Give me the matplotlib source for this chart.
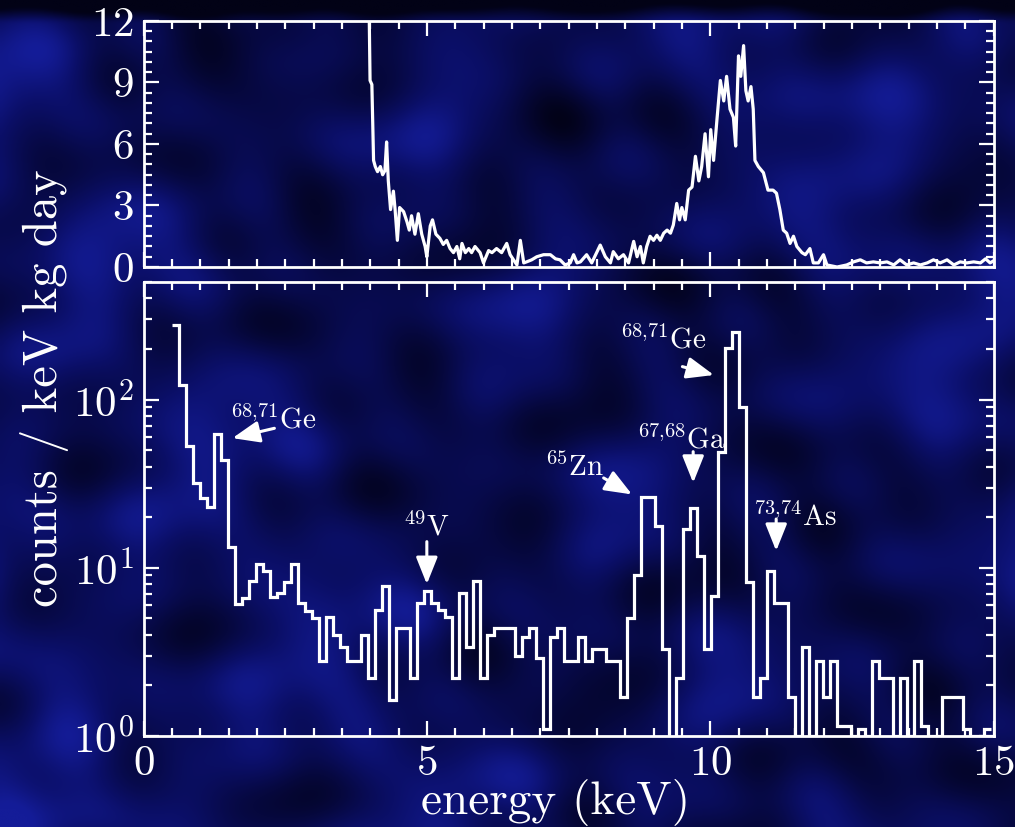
import numpy as np
import matplotlib
matplotlib.use("Agg")
import matplotlib.pyplot as plt
from matplotlib.colors import LinearSegmentedColormap
from matplotlib.ticker import MultipleLocator, LogLocator, NullFormatter

plt.rcParams.update({
    "font.family": "serif",
    "font.serif": ["cmr10", "DejaVu Serif"],
    "mathtext.fontset": "cm",
    "axes.formatter.use_mathtext": True,
    "text.color": "white",
})

# --- top panel: fine-binned spectrum (counts / keV kg day, linear) ---
top_energy = [3.96, 3.975, 3.998, 4.03, 4.06, 4.09, 4.13, 4.18, 4.22, 4.26, 4.29, 4.32,
              4.36, 4.41, 4.44, 4.48, 4.52, 4.59, 4.65, 4.69, 4.73, 4.79, 4.85, 4.91,
              4.97, 5.0, 5.06, 5.10, 5.16, 5.23, 5.29, 5.35, 5.41, 5.47, 5.53, 5.58,
              5.62, 5.68, 5.74, 5.79, 5.85, 5.94, 6.0, 6.09, 6.15, 6.23, 6.32, 6.41,
              6.47, 6.53, 6.59, 6.65, 6.71, 6.76, 6.85, 6.94, 7.06, 7.18, 7.27, 7.35,
              7.44, 7.53, 7.59, 7.65, 7.71, 7.82, 7.91, 8.06, 8.15, 8.24, 8.29, 8.38,
              8.47, 8.56, 8.65, 8.71, 8.77, 8.82, 8.88, 8.94, 9.0, 9.06, 9.12, 9.18,
              9.24, 9.30, 9.35, 9.41, 9.46, 9.50, 9.56, 9.62, 9.68, 9.74, 9.80, 9.85,
              9.91, 9.97, 10.01, 10.06, 10.12, 10.18, 10.24, 10.29, 10.35, 10.41, 10.45,
              10.50, 10.54, 10.59, 10.63, 10.67, 10.72, 10.76, 10.79, 10.85, 10.94,
              11.02, 11.11, 11.17, 11.23, 11.29, 11.35, 11.41, 11.47, 11.53, 11.62,
              11.68, 11.76, 11.82, 11.91, 12.0, 12.06, 12.24, 12.41, 12.53, 12.65,
              12.76, 12.88, 13.0, 13.12, 13.24, 13.35, 13.47, 13.59, 13.71, 13.83,
              13.94, 14.06, 14.18, 14.30, 14.41, 14.53, 14.65, 14.77, 14.86, 14.94, 15.0]
top_rate = [30, 14, 9.1, 8.9, 5.2, 4.9, 4.65, 4.9, 4.5, 4.7, 6.1, 4.2,
            2.8, 3.7, 2.8, 1.3, 2.9, 2.7, 2.2, 1.8, 2.5, 1.6, 2.6, 1.6,
            1.0, 0.5, 2.0, 2.3, 1.6, 1.4, 1.1, 1.3, 0.9, 0.7, 1.0, 0.4,
            1.15, 0.7, 0.9, 0.7, 1.0, 0.7, 0.2, 0.8, 0.7, 0.9, 0.7, 1.15,
            0.6, 0.35, 0.1, 1.3, 0.2, 0.25, 0.35, 0.5, 0.6, 0.6, 0.4, 0.35,
            0.1, 0.2, 0.6, 0.2, 0.25, 0.6, 0.2, 1.07, 0.5, 0.2, 0.75, 0.4,
            0.6, 0.2, 1.25, 0.5, 1.0, 0.2, 1.0, 1.5, 1.3, 1.55, 1.3, 1.65,
            1.8, 1.65, 2.05, 3.1, 2.3, 2.9, 2.3, 3.75, 3.9, 5.4, 4.2, 4.9,
            6.5, 4.4, 6.7, 5.2, 7.2, 9.1, 8.1, 9.3, 7.7, 7.3, 5.9,
            10.3, 9.3, 10.8, 8.6, 8.1, 8.8, 7.7, 5.2, 4.9, 4.6,
            3.75, 3.75, 3.6, 2.8, 1.8, 1.65, 1.15, 1.5, 1.0, 0.7,
            0.6, 0.9, 0.2, 0.2, 0.6, 0.1, 0.0, 0.1, 0.25, 0.35,
            0.2, 0.25, 0.2, 0.25, 0.1, 0.35, 0.1, 0.2, 0.1, 0.2,
            0.35, 0.2, 0.35, 0.1, 0.25, 0.2, 0.25, 0.2, 0.4, 0.2, 0.3]

# --- bottom panel: coarse histogram (log scale) ---
bin_start = 0.5
bin_width = 0.1235
counts = [277, 122, 53, 32, 26, 23, 62, 43.5, 13.3, 6.1,
          6.6, 8.4, 10.5, 9.6, 6.7, 7.1, 8.2, 10.5, 6.2, 5.5,
          5.0, 2.8, 5.1, 4.0, 3.4, 2.8, 2.8, 4.0, 2.2, 5.6,
          7.8, 1.63, 4.4, 4.4, 2.2, 6.2, 7.3, 6.2, 5.6, 5.1,
          2.2, 7.1, 3.4, 8.4, 2.2, 4.0, 4.4, 4.4, 4.4, 3.0,
          3.9, 4.4, 2.9, 1.1, 3.9, 4.4, 2.8, 2.8, 3.9, 2.8,
          3.3, 3.3, 2.8, 2.8, 1.7, 5.0, 9.0, 26.3, 26.3, 17.7,
          3.3, 0.01, 2.2, 16.9, 22.8, 11.8, 3.3, 6.8, 49, 203,
          253, 90, 8.2, 1.7, 2.2, 9.6, 6.2, 6.2, 1.7, 1.0,
          3.4, 1.0, 2.8, 1.7, 2.8, 1.14, 1.14, 1.0, 1.1, 1.0,
          2.8, 2.2, 2.2, 1.0, 2.2, 1.0, 2.8, 1.14, 1.0, 1.0,
          1.7, 1.7, 1.7, 1.1, 1.0, 1.0, 1.1]

# isotope labels, text anchor, arrow tail and arrow tip (keV, counts)
iso_labels = [r"$^{68{,}71}$Ge", r"$^{49}$V", r"$^{65}$Zn", r"$^{68{,}71}$Ge",
              r"$^{67{,}68}$Ga", r"$^{73{,}74}$As"]
iso_text_xy = [(1.53, 67), (4.58, 15.5), (7.09, 35), (8.41, 200), (8.71, 51), (10.76, 17.7)]
iso_tail = [(2.31, 67.5), (5.0, 14.3), (8.12, 34.2), (9.51, 157), (9.70, 49), (11.165, 19.5)]
iso_tip = [(1.57, 59), (5.0, 8.0), (8.62, 27.3), (10.065, 140), (9.70, 32), (11.165, 12.6)]

W, H = 1015, 827
fig = plt.figure(figsize=(W / 100, H / 100), dpi=100)

# dark blue mottled backdrop (fixed sum of waves, purely decorative)
bg = fig.add_axes([0, 0, 1, 1], zorder=-10)
yy, xx = np.mgrid[0:1:300j, 0:1:360j]
waves = [(17, 8, 0.4, 1.0), (-13, 21, 1.3, 0.9), (29, -15, 2.0, 0.8), (9, 35, 0.7, 0.7),
         (-41, 12, 2.9, 0.6), (47, 26, 1.1, 0.5), (21, -53, 0.2, 0.5), (-61, -31, 2.4, 0.4),
         (70, 9, 1.7, 0.35), (6, 66, 0.9, 0.35), (5, 3, 0.3, 0.8)]
field = sum(a * np.sin(fx * xx + fy * yy + ph) for fx, fy, ph, a in waves)
field = field - 320 * np.clip(yy - 0.975, 0, 1)
cmap = LinearSegmentedColormap.from_list("bgblue", ["#020216", "#06083e", "#0b0f68", "#141c98"])
bg.imshow(field, cmap=cmap, aspect="auto", interpolation="bicubic",
          extent=[0, 1, 0, 1], origin="lower", vmin=-5.0, vmax=4.2)
bg.set_axis_off()

ax_top = fig.add_axes([143.5 / W, 1 - 267 / H, 850 / W, 246 / H])
ax_bot = fig.add_axes([143.5 / W, 1 - 736 / H, 850 / W, 454 / H])

line_kw = dict(color="white", lw=2.3)

ax_top.plot(top_energy, top_rate, **line_kw)
ax_top.set_xlim(0, 15)
ax_top.set_ylim(0, 12)
ax_top.yaxis.set_major_locator(MultipleLocator(3))
ax_top.yaxis.set_minor_locator(MultipleLocator(0.5))
ax_top.xaxis.set_major_formatter(NullFormatter())

edges = bin_start + bin_width * np.arange(len(counts) + 1)
ax_bot.stairs(counts, edges, baseline=None, **line_kw)
ax_bot.set_yscale("log")
ax_bot.set_xlim(0, 15)
ax_bot.set_ylim(1, 500)
ax_bot.yaxis.set_major_locator(LogLocator(base=10, numticks=10))
ax_bot.yaxis.set_minor_locator(LogLocator(base=10, subs=np.arange(2, 10), numticks=20))
ax_bot.yaxis.set_minor_formatter(NullFormatter())

for ax in (ax_top, ax_bot):
    ax.set_facecolor("none")
    ax.xaxis.set_major_locator(MultipleLocator(5))
    ax.xaxis.set_minor_locator(MultipleLocator(0.5))
    for sp in ax.spines.values():
        sp.set_color("white")
        sp.set_linewidth(2.0)
    ax.tick_params(which="both", direction="in", top=True, right=True,
                   colors="white", width=1.6, labelsize=31, pad=7)
    ax.tick_params(which="major", length=11)
    ax.tick_params(which="minor", length=6)

for lab, txy, tail, tip in zip(iso_labels, iso_text_xy, iso_tail, iso_tip):
    ax_bot.text(txy[0], txy[1], lab, fontsize=21, color="white", ha="left", va="baseline")
    ax_bot.annotate("", xy=tip, xytext=tail,
                    arrowprops=dict(arrowstyle="-|>,head_length=0.75,head_width=0.3",
                                    color="white", lw=2.2, mutation_scale=22,
                                    shrinkA=0, shrinkB=0))

fig.text(45 / W, 1 - 388 / H, "counts / keV kg day", rotation=90, fontsize=35,
         ha="center", va="center", color="white")
fig.text(556 / W, 1 - 803 / H, "energy (keV)", fontsize=34, ha="center", va="center",
         color="white")

fig.savefig("out.png", dpi=100)
